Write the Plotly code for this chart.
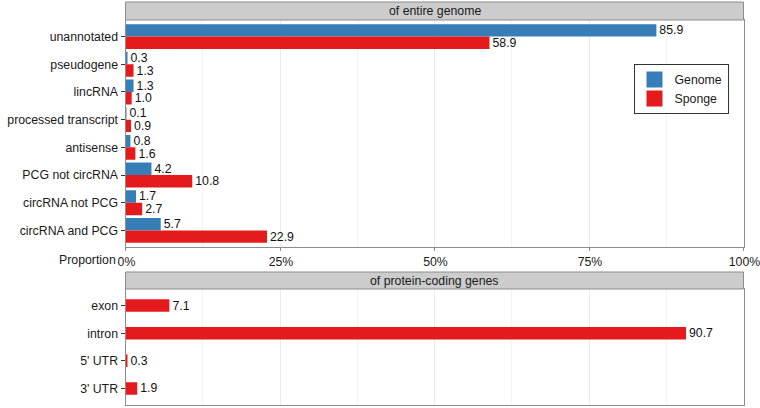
import plotly.graph_objects as go

# ---- data ----
genome_categories = ["unannotated", "pseudogene", "lincRNA", "processed transcript",
                     "antisense", "PCG not circRNA", "circRNA not PCG", "circRNA and PCG"]
genome_values = [85.9, 0.3, 1.3, 0.1, 0.8, 4.2, 1.7, 5.7]
sponge_values = [58.9, 1.3, 1.0, 0.9, 1.6, 10.8, 2.7, 22.9]

pcg_categories = ["exon", "intron", "5' UTR", "3' UTR"]
pcg_sponge_values = [7.1, 90.7, 0.3, 1.9]

x_tick_vals = [0, 25, 50, 75, 100]
x_tick_text = ["0%", "25%", "50%", "75%", "100%"]

panel_titles = ["of entire genome", "of protein-coding genes"]
series_names = ["Genome", "Sponge"]

# ---- style ----
W, H = 760, 408
BLUE = "#377EB8"
RED = "#E41A1C"
FONT = "Liberation Sans, Arial, Helvetica, sans-serif"
FS = 12.3


def fx(p):
    return p / W


def fy(p):
    return 1 - p / H


X0, X1 = 125.5, 743.5
TOP_STRIP = (2, 20)
TOP_PANEL = (20, 247)
BOT_STRIP = (272, 289)
BOT_PANEL = (289, 405)

fig = go.Figure()

bar_specs = [
    (genome_categories, genome_values, series_names[0], BLUE, "x", "y", None),
    (genome_categories, sponge_values, series_names[1], RED, "x", "y", None),
    (pcg_categories, pcg_sponge_values, series_names[1], RED, "x2", "y2", 0.45),
]
for cats, vals, name, color, xa, ya, w in bar_specs:
    fig.add_trace(go.Bar(
        y=cats, x=vals, orientation="h", name=name, legendgroup=name,
        marker=dict(color=color, line=dict(width=0)), width=w,
        text=[f"{v:.1f}" for v in vals], textposition="outside",
        constraintext="none", cliponaxis=False,
        textfont=dict(size=FS, color="#111111", family=FONT),
        xaxis=xa, yaxis=ya, showlegend=False,
    ))

# legend keys (larger squares, linked to the bars through legendgroup)
for name, color in zip(series_names, [BLUE, RED]):
    fig.add_trace(go.Scatter(
        x=[None], y=[None], mode="markers", name=name, legendgroup=name,
        marker=dict(symbol="square", size=18, color=color),
        xaxis="x", yaxis="y", showlegend=True, hoverinfo="skip",
    ))

axis_common_x = dict(
    range=[0, 100], tickvals=x_tick_vals, ticktext=x_tick_text,
    showgrid=True, gridcolor="#EBEBEB", gridwidth=0.6,
    minor=dict(dtick=12.5, tick0=0, showgrid=True, gridcolor="#F4F4F4", gridwidth=0.5),
    showline=True, linecolor="#8C8C8C", linewidth=1, mirror=True,
    zeroline=False, fixedrange=True, automargin=False,
    tickfont=dict(size=FS, color="#1A1A1A", family=FONT),
)
axis_common_y = dict(
    type="category", showgrid=False, zeroline=False, automargin=False,
    showline=True, linecolor="#8C8C8C", linewidth=1, mirror=True,
    ticks="outside", ticklen=4, tickcolor="#333333", tickwidth=1,
    tickfont=dict(size=FS, color="#1A1A1A", family=FONT),
)

fig.update_layout(
    width=W, height=H,
    margin=dict(l=0, r=0, t=0, b=0, autoexpand=False),
    paper_bgcolor="white", plot_bgcolor="white",
    barmode="group", bargap=0.1, bargroupgap=0,
    font=dict(family=FONT, size=FS, color="#1A1A1A"),
    xaxis=dict(axis_common_x, domain=[fx(X0), fx(X1)], anchor="y",
               ticks="outside", ticklen=3, tickcolor="#8C8C8C", showticklabels=True,
               ticklabelshift=1, ticklabeloverflow="allow"),
    yaxis=dict(axis_common_y, domain=[fy(TOP_PANEL[1]), fy(TOP_PANEL[0])], anchor="x",
               categoryorder="array", categoryarray=genome_categories,
               range=[len(genome_categories) - 0.4, -0.6]),
    xaxis2=dict(axis_common_x, domain=[fx(X0), fx(X1)], anchor="y2",
                ticks="", showticklabels=False),
    yaxis2=dict(axis_common_y, domain=[fy(BOT_PANEL[1]), fy(BOT_PANEL[0])], anchor="x2",
                categoryorder="array", categoryarray=pcg_categories,
                range=[len(pcg_categories) - 0.4, -0.6]),
    legend=dict(
        x=fx(681), y=fy(64), xanchor="center", yanchor="top",
        bgcolor="white", bordercolor="#333333", borderwidth=1,
        font=dict(size=FS, family=FONT, color="#1A1A1A"),
        traceorder="normal", itemwidth=30, itemsizing="trace",
    ),
    showlegend=True,
)

# strips
for (s0, s1), title in zip([TOP_STRIP, BOT_STRIP], panel_titles):
    fig.add_shape(type="rect", xref="paper", yref="paper",
                  x0=fx(X0), x1=fx(X1), y0=fy(s1), y1=fy(s0),
                  fillcolor="#CCCCCC", line=dict(color="#8C8C8C", width=1), layer="above")
    fig.add_annotation(xref="paper", yref="paper", x=(fx(X0) + fx(X1)) / 2,
                       y=(fy(s0) + fy(s1)) / 2, text=title, showarrow=False,
                       font=dict(size=FS, family=FONT, color="#1A1A1A"),
                       xanchor="center", yanchor="middle")

# "Proportion" axis label to the left of tick labels
fig.add_annotation(xref="paper", yref="paper", x=fx(118), y=fy(260),
                   text="Proportion", showarrow=False,
                   font=dict(size=FS, family=FONT, color="#1A1A1A"),
                   xanchor="right", yanchor="middle")

fig.write_html("out.html", config={"displayModeBar": False},
               post_script="document.body.style.margin='0';")
